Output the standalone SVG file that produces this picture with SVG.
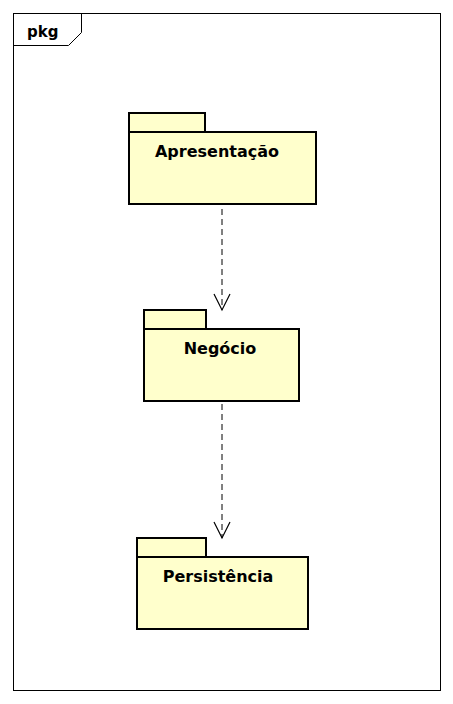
<svg xmlns="http://www.w3.org/2000/svg" width="453" height="704" viewBox="0 0 453 704">
<defs>
<style>
.frame{fill:none;stroke:#000;stroke-width:1}
.pkg{fill:#FFFFCC;stroke:#000;stroke-width:2}
.lbl{font-family:"DejaVu Sans",sans-serif;font-size:16px;font-weight:bold;text-anchor:middle;fill:#000}
.dep{fill:none;stroke:#000;stroke-width:1;stroke-dasharray:6,4}
</style>
<marker id="open" markerWidth="20" markerHeight="20" refX="17" refY="10" orient="auto" markerUnits="userSpaceOnUse">
<path d="M1,2 L17,10 L1,18" fill="none" stroke="#000" stroke-width="1.2"/>
</marker>
</defs>
<rect width="453" height="704" fill="#fff"/>
<g id="frame">
<rect class="frame" x="13.5" y="13.5" width="427" height="677"/>
<path class="frame" d="M13.5,45.5 L68.5,45.5 L81.5,32.5 L81.5,13.5"/>
<text x="27" y="37" style="font-family:'DejaVu Sans',sans-serif;font-size:15px;font-weight:bold;fill:#000">pkg</text>
</g>
<g id="connectors">
<line class="dep" x1="222" y1="209" x2="222" y2="310" marker-end="url(#open)"/>
<line class="dep" x1="222" y1="404" x2="222" y2="538" marker-end="url(#open)"/>
</g>
<g id="apresentacao">
<rect class="pkg" x="129" y="113" width="76" height="19"/>
<rect class="pkg" x="129" y="132" width="187" height="72"/>
<text class="lbl" x="217" y="157">Apresentação</text>
</g>
<g id="negocio">
<rect class="pkg" x="144" y="310" width="62" height="19"/>
<rect class="pkg" x="144" y="329" width="155" height="72"/>
<text class="lbl" x="220" y="354">Negócio</text>
</g>
<g id="persistencia">
<rect class="pkg" x="137" y="538" width="69" height="19"/>
<rect class="pkg" x="137" y="557" width="171" height="72"/>
<text class="lbl" x="218" y="582">Persistência</text>
</g>
</svg>
